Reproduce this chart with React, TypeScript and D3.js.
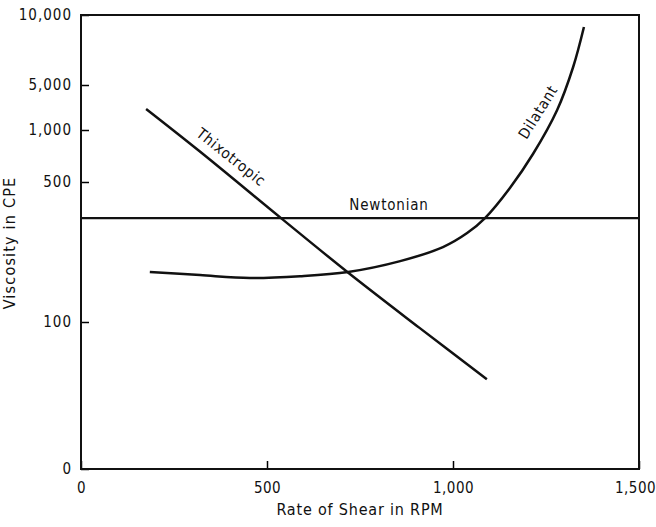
import React, { useEffect, useRef } from "react";
import * as d3 from "d3";

// tick labels on the (non-uniform) viscosity axis
const yTickValues = [0, 100, 500, 1000, 5000, 10000];
const xTickValues = [0, 500, 1000, 1500];

// [rpm, viscosity]
const thixotropic: [number, number][] = [
  [175, 2870], [318, 798], [541, 394], [716, 243], [910, 96], [1091, 61],
];
const dilatant: [number, number][] = [
  [185, 243], [320, 234], [454, 226], [589, 231], [718, 243], [858, 274],
  [973, 314], [1038, 354], [1086, 397], [1153, 483], [1215, 769], [1280, 2778],
  [1323, 6286], [1352, 9143],
];
const newtonian: [number, number][] = [
  [0, 397], [1500, 397],
];

const FONT = "'DejaVu Sans Condensed', 'Liberation Sans Narrow', sans-serif";

const App = () => {
  const xAxisRef = useRef<SVGGElement>(null);
  const yAxisRef = useRef<SVGGElement>(null);

  const width = 656;
  const height = 527;
  const left = 81;
  const right = 639;
  const top = 15;
  const bottom = 469;

  const x = d3.scaleLinear().domain([0, 1500]).range([left, right]);
  // the original axis is hand spaced, so map it piecewise
  const y = d3
    .scaleLinear()
    .domain(yTickValues)
    .range([bottom, 322, 182, 130, 85, top]);

  const line = d3
    .line<[number, number]>()
    .x((d) => x(d[0]))
    .y((d) => y(d[1]))
    .curve(d3.curveCatmullRom.alpha(0.5));

  useEffect(() => {
    const fmt = d3.format(",");
    d3.select(xAxisRef.current)
      .call(
        d3.axisBottom(x).tickValues(xTickValues).tickFormat((d) => fmt(d as number))
          .tickSizeInner(-8).tickSizeOuter(0).tickPadding(13)
      )
      .call((g) => g.select(".domain").remove())
      .call((g) => g.selectAll("line").attr("stroke-width", 1.5))
      .call((g) => g.selectAll("text").attr("font-family", FONT).attr("font-size", 15)
        .attr("font-weight", 500).attr("letter-spacing", 0.5).attr("fill", "#111"))
      .call((g) => g.selectAll("text").filter((d) => d === 1500).attr("dx", -4));

    d3.select(yAxisRef.current)
      .call(
        d3.axisLeft(y).tickValues(yTickValues).tickFormat((d) => fmt(d as number))
          .tickSizeInner(-8).tickSizeOuter(0).tickPadding(9)
      )
      .call((g) => g.select(".domain").remove())
      .call((g) => g.selectAll("line").attr("stroke-width", 1.5))
      .call((g) => g.selectAll("text").attr("font-family", FONT).attr("font-size", 15)
        .attr("font-weight", 500).attr("letter-spacing", 1).attr("fill", "#111"));
  }, []);

  return (
    <svg width={width} height={height} style={{ position: "absolute", left: 0, top: 0, background: "#fff" }}>
      <g ref={xAxisRef} transform={`translate(0,${bottom})`} />
      <g ref={yAxisRef} transform={`translate(${left},0)`} />
      <rect x={left} y={top} width={right - left} height={bottom - top} fill="none" stroke="#111" strokeWidth={2} />

      <path d={line(newtonian) || ""} fill="none" stroke="#111" strokeWidth={2.2} />
      <path d={line(thixotropic) || ""} fill="none" stroke="#111" strokeWidth={2.5} />
      <path d={line(dilatant) || ""} fill="none" stroke="#111" strokeWidth={2.5} />

      <g fontFamily={FONT} fontSize={15} fill="#111" letterSpacing={0.8}>
        <text x={x(828)} y={y(397) - 8} textAnchor="middle">Newtonian</text>
        <text transform={`translate(${x(395)},${y(700)}) rotate(38.5)`} textAnchor="middle">Thixotropic</text>
        <text transform={`translate(${x(1240)},${y(2350)}) rotate(-58)`} textAnchor="middle">Dilatant</text>
        <text x={360} y={515} textAnchor="middle" fontSize={16}>Rate of Shear in RPM</text>
        <text transform={`translate(15,${243}) rotate(-90)`} textAnchor="middle" fontSize={16} letterSpacing={1.2}>Viscosity in CPE</text>
      </g>
    </svg>
  );
};

export default App;
